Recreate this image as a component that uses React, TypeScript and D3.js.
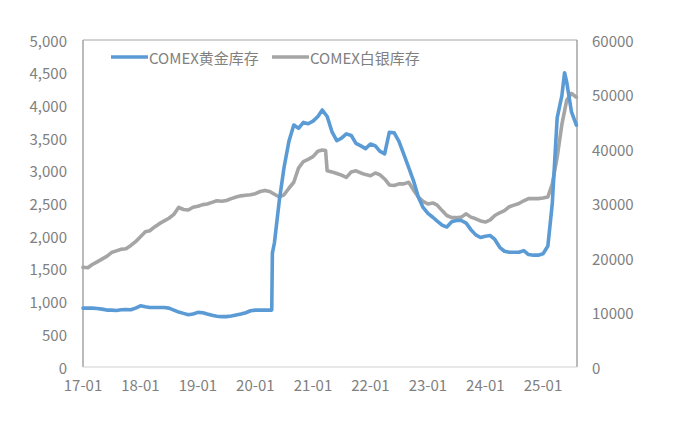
import React from "react";
import * as d3 from "d3";

const startMonth = "2017-01-01";
// monthly readings, 2017-01 .. 2025-08
const goldMonthly = [
  900, 900, 900, 895, 885, 870, 870, 865, 875, 880, 875, 900,
  935, 920, 910, 910, 910, 910, 900, 870, 840, 820, 800, 810,
  835, 830, 810, 790, 775, 770, 770, 780, 795, 810, 830, 860,
  870, 870, 870, 870, 1900, 2545, 3050, 3450, 3700, 3650, 3740, 3720,
  3760, 3830, 3930, 3830, 3600, 3460, 3500, 3565, 3540, 3420, 3380, 3340,
  3410, 3380, 3300, 3260, 3590, 3580, 3450, 3250, 3050, 2850, 2600, 2440,
  2350, 2290, 2230, 2170, 2140, 2220, 2240, 2240, 2200, 2100, 2020, 1980,
  2000, 2010, 1950, 1830, 1770, 1755, 1755, 1755, 1780, 1720, 1710, 1710,
  1730, 1850, 2500, 3810, 4150, 4350, 3900, 3700,
];
const silverMonthly = [
  18300, 18200, 18800, 19300, 19800, 20300, 21000, 21300, 21600, 21700, 22300, 23000,
  23900, 24800, 25000, 25700, 26300, 26800, 27300, 28000, 29300, 28900, 28800, 29300,
  29500, 29800, 29900, 30200, 30500, 30400, 30550, 30900, 31200, 31400, 31500, 31600,
  31800, 32200, 32400, 32200, 31700, 31200, 31600, 32800, 33900, 36500, 37700, 38100,
  38600, 39600, 39800, 36000, 35800, 35500, 35200, 34800, 35800, 36000, 35600, 35300,
  35100, 35600, 35300, 34500, 33400, 33300, 33600, 33600, 33900, 32500, 31200, 30400,
  29900, 30100, 29700, 28700, 27800, 27400, 27400, 27500, 28100, 27500, 27200, 26800,
  26600, 27000, 27800, 28300, 28700, 29400, 29700, 30000, 30500, 30900, 30900, 30900,
  31000, 31200, 33600, 38500, 44500, 49000, 50200, 49500,
];
const goldExtra: [string, number][] = [
  ["2020-04-14", 870],
  ["2020-04-18", 1740],
  ["2025-05-18", 4500],
];
const silverExtra: [string, number][] = [["2021-03-22", 39700]];

const xTicks = [
  "2017-01-01", "2018-01-01", "2019-01-01", "2020-01-01", "2021-01-01",
  "2022-01-01", "2023-01-01", "2024-01-01", "2025-01-01",
];
const leftTicks = [0, 500, 1000, 1500, 2000, 2500, 3000, 3500, 4000, 4500, 5000];
const rightTicks = [0, 10000, 20000, 30000, 40000, 50000, 60000];
const seriesNames = ["COMEX黄金库存", "COMEX白银库存"];

const W = 687;
const H = 424;
const plot = { left: 83, right: 577, top: 40, bottom: 367 };
const FONT = "'Noto Sans CJK SC', 'Noto Sans', sans-serif";
const GOLD = "#5b9bd5";
const SILVER = "#a5a5a5";
const TXT = "#808080";

function buildSeries(monthly: number[], extra: [string, number][]) {
  const parse = d3.timeParse("%Y-%m-%d");
  const start = parse(startMonth) as Date;
  const pts: { d: Date; v: number }[] = monthly.map((v, i) => ({
    d: d3.timeMonth.offset(start, i),
    v,
  }));
  extra.forEach(([s, v]) => pts.push({ d: parse(s) as Date, v }));
  pts.sort((a, b) => +a.d - +b.d);
  return pts;
}

export default function App() {
  const parse = d3.timeParse("%Y-%m-%d");
  const x = d3
    .scaleTime()
    .domain([parse("2017-01-01") as Date, parse("2025-01-01") as Date])
    .range([plot.left, 543]);
  const yL = d3.scaleLinear().domain([0, 5000]).range([plot.bottom, plot.top]);
  const yR = d3.scaleLinear().domain([0, 60000]).range([plot.bottom, plot.top]);

  const gold = buildSeries(goldMonthly, goldExtra);
  const silver = buildSeries(silverMonthly, silverExtra);

  const lineL = d3
    .line<{ d: Date; v: number }>()
    .x((p) => x(p.d))
    .y((p) => yL(p.v));
  const lineR = d3
    .line<{ d: Date; v: number }>()
    .x((p) => x(p.d))
    .y((p) => yR(p.v));

  const fmtL = d3.format(",");
  const fmtX = d3.timeFormat("%y-%m");

  return (
    <svg
      width={W}
      height={H}
      style={{ position: "absolute", left: 0, top: 0, background: "#fff" }}
      fontFamily={FONT}
    >
      <rect x={0} y={0} width={W} height={H} fill="#fff" />
      {/* plot frame */}
      <line x1={plot.left} x2={plot.left} y1={plot.top} y2={plot.bottom} stroke="#8c8c8c" strokeWidth={1.2} />
      <line x1={plot.left} x2={plot.right} y1={plot.top} y2={plot.top} stroke="#a6a6a6" strokeWidth={1} />
      <line x1={plot.right} x2={plot.right} y1={plot.top} y2={plot.bottom} stroke="#8c8c8c" strokeWidth={1.2} />
      <line x1={plot.left} x2={plot.right} y1={plot.bottom} y2={plot.bottom} stroke="#d0d0d0" strokeWidth={1.2} />

      {/* left axis */}
      {leftTicks.map((t) => (
        <text key={"l" + t} x={67} y={yL(t)} textAnchor="end" dominantBaseline="central" fontSize={15} fill={TXT}>
          {fmtL(t)}
        </text>
      ))}
      {/* right axis */}
      {rightTicks.map((t) => (
        <text key={"r" + t} x={592} y={yR(t)} textAnchor="start" dominantBaseline="central" fontSize={15} fill={TXT}>
          {t}
        </text>
      ))}
      {/* x axis */}
      {xTicks.map((s) => {
        const d = parse(s) as Date;
        return (
          <text key={s} x={x(d)} y={384} textAnchor="middle" dominantBaseline="central" fontSize={15} fill={TXT}>
            {fmtX(d)}
          </text>
        );
      })}

      {/* series */}
      <path d={lineR(silver) || ""} fill="none" stroke={SILVER} strokeWidth={3.6} strokeLinejoin="round" strokeLinecap="round" />
      <path d={lineL(gold) || ""} fill="none" stroke={GOLD} strokeWidth={3.6} strokeLinejoin="round" strokeLinecap="round" />

      {/* legend */}
      <line x1={111} x2={148} y1={57} y2={57} stroke={GOLD} strokeWidth={3.6} />
      <text x={149} y={57} dominantBaseline="central" fontSize={15} fill={TXT}>
        {seriesNames[0]}
      </text>
      <line x1={272} x2={309} y1={57} y2={57} stroke={SILVER} strokeWidth={3.6} />
      <text x={310} y={57} dominantBaseline="central" fontSize={15} fill={TXT}>
        {seriesNames[1]}
      </text>
    </svg>
  );
}
